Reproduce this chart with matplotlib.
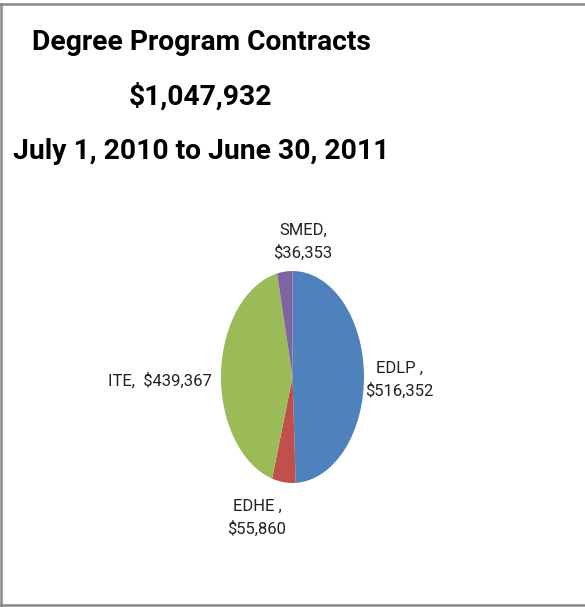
import matplotlib.pyplot as plt
from matplotlib.lines import Line2D

# Data
programs = ['EDLP', 'EDHE', 'ITE', 'SMED']
amounts = [516352, 55860, 439367, 36353]
colors = ['#4F81BD', '#C0504D', '#9BBB59', '#8064A2']
total = sum(amounts)

title_lines = ['Degree Program Contracts',
               '${:,}'.format(total),
               'July 1, 2010 to June 30, 2011']

W, H = 585, 607
fig = plt.figure(figsize=(W / 100, H / 100), dpi=100)
fig.patch.set_facecolor('white')

font = ['Roboto', 'DejaVu Sans']

# Title (three lines)
for txt, y in zip(title_lines, [42, 97, 152]):
    fig.text(201 / W, 1 - y / H, txt, ha='center', va='center',
             fontsize=20.3, fontweight='bold', family=font)

# Pie, stretched vertically like the source
ax = fig.add_axes([221 / W, 1 - 483 / H, 143 / W, 212 / H])
ax.pie(amounts, colors=colors, startangle=90, counterclock=False,
       wedgeprops=dict(linewidth=0))
ax.set_aspect('auto')
ax.set_xlim(-1, 1)
ax.set_ylim(-1, 1)
ax.axis('off')

# Data labels
lab = {p: '${:,}'.format(a) for p, a in zip(programs, amounts)}
fig.text(399 / W, 1 - 380 / H, 'EDLP ,\n' + lab['EDLP'], ha='center', va='center',
         fontsize=12, family=font, color='#222222', linespacing=1.5)
fig.text(257 / W, 1 - 518 / H, 'EDHE ,\n' + lab['EDHE'], ha='center', va='center',
         fontsize=12, family=font, color='#222222', linespacing=1.5)
fig.text(160 / W, 1 - 381 / H, 'ITE,  ' + lab['ITE'], ha='center', va='center',
         fontsize=12, family=font, color='#222222')
fig.text(303 / W, 1 - 242 / H, 'SMED,\n' + lab['SMED'], ha='center', va='center',
         fontsize=12, family=font, color='#222222', linespacing=1.5)

# Frame lines
fig.add_artist(Line2D([0, 1], [1 - 4 / H, 1 - 4 / H], color='#888888', lw=1.8))
fig.add_artist(Line2D([1 / W, 1 / W], [0, 1 - 4 / H], color='#888888', lw=1.8))
fig.add_artist(Line2D([0, 1], [1 - 605 / H, 1 - 605 / H], color='#888888', lw=1.8))

fig.savefig('out.png', dpi=100, facecolor='white')
